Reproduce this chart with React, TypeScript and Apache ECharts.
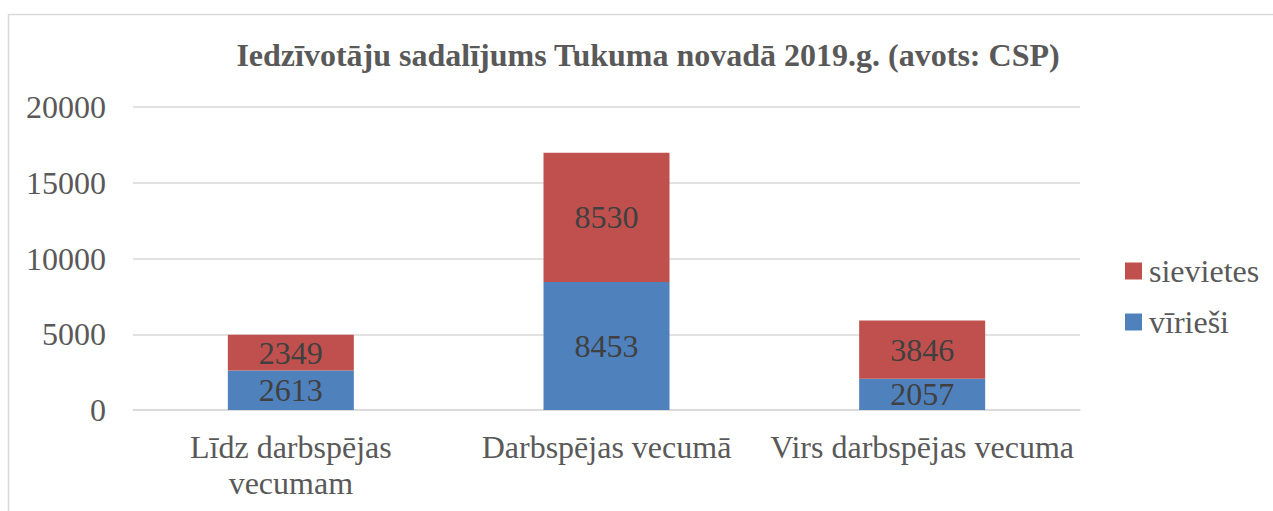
import React, { useEffect, useRef } from "react";
import * as echarts from "echarts";

const categories = ["Līdz darbspējas\nvecumam", "Darbspējas vecumā", "Virs darbspējas vecuma"];
const viriesi = [2613, 8453, 2057];
const sievietes = [2349, 8530, 3846];
const yTicks = { min: 0, max: 20000, interval: 5000 };
const titleText = "Iedzīvotāju sadalījums Tukuma novadā 2019.g. (avots: CSP)";

const FONT = "Times New Roman, Liberation Serif, serif";
const TXT = "#595959";

export default function App() {
  const ref = useRef<HTMLDivElement>(null);
  useEffect(() => {
    if (!ref.current) return;
    const chart = echarts.init(ref.current, null, { renderer: "svg" });
    chart.setOption({
      animation: false,
      backgroundColor: "#ffffff",
      textStyle: { fontFamily: FONT },
      title: {
        text: titleText,
        left: 643,
        top: 34,
        textAlign: "center",
        textStyle: { fontFamily: FONT, fontWeight: "bold", fontSize: 32, color: TXT },
      },
      graphic: [
        {
          type: "rect",
          shape: { x: 8.5, y: 14.5, width: 1300, height: 600 },
          style: { fill: "none", stroke: "#d9d9d9", lineWidth: 1.5 },
          silent: true,
        },
      ],
      legend: {
        orient: "vertical",
        left: 1120,
        top: 250,
        itemWidth: 17,
        itemHeight: 17,
        itemGap: 19,
        icon: "rect",
        data: ["sievietes", "vīrieši"],
        textStyle: { fontFamily: FONT, fontWeight: "normal", fontSize: 32, color: TXT, padding: [0, 0, 0, 2] },
      },
      grid: { left: 133, right: 193, top: 107, bottom: 101 },
      xAxis: {
        type: "category",
        data: categories,
        axisLine: { lineStyle: { color: "#d9d9d9", width: 1.5 } },
        axisTick: { show: false },
        axisLabel: {
          interval: 0,
          fontFamily: FONT,
          fontWeight: "normal",
          fontSize: 32,
          color: TXT,
          margin: 19,
          lineHeight: 36,
        },
      },
      yAxis: {
        type: "value",
        min: yTicks.min,
        max: yTicks.max,
        interval: yTicks.interval,
        axisLine: { show: false },
        axisTick: { show: false },
        splitLine: { lineStyle: { color: "#d9d9d9", width: 1.5 } },
        axisLabel: {
          fontFamily: FONT,
          fontWeight: "normal",
          fontSize: 32,
          color: TXT,
          margin: 27,
          formatter: (v: number) => String(v),
        },
      },
      series: [
        {
          name: "vīrieši",
          type: "bar",
          stack: "total",
          barWidth: 126,
          data: viriesi,
          itemStyle: { color: "#4F81BD" },
          label: { show: true, position: "inside", fontFamily: FONT, fontWeight: "normal", fontSize: 32, color: "#404040" },
        },
        {
          name: "sievietes",
          type: "bar",
          stack: "total",
          barWidth: 126,
          data: sievietes,
          itemStyle: { color: "#C0504D" },
          label: { show: true, position: "inside", fontFamily: FONT, fontWeight: "normal", fontSize: 32, color: "#404040" },
        },
      ],
    });
    return () => chart.dispose();
  }, []);
  return (
    <div
      ref={ref}
      style={{ position: "fixed", left: 0, top: 0, width: 1273, height: 511 }}
    />
  );
}
